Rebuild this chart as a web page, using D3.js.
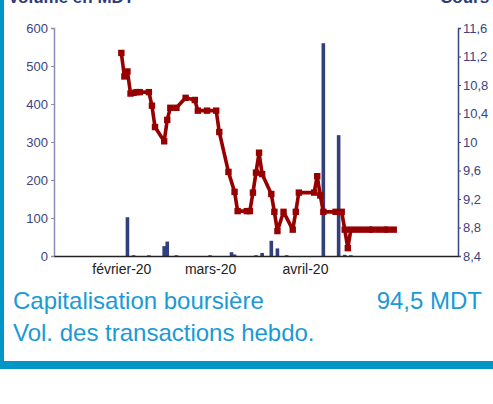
<!DOCTYPE html>
<html>
<head>
<meta charset="utf-8">
<script src="https://cdn.jsdelivr.net/npm/d3@7"></script>
<style>
  body { margin: 0; background: #fff; }
  svg { display: block; font-family: "Liberation Sans", Arial, sans-serif; }
</style>
</head>
<body>
<svg id="chart" width="493" height="404"></svg>
<script>
// cours (daily price), right axis
const coursDates = ["2020-02-01","2020-02-02","2020-02-03","2020-02-04","2020-02-05","2020-02-06","2020-02-07",
  "2020-02-10","2020-02-11","2020-02-12","2020-02-15","2020-02-16","2020-02-17","2020-02-19","2020-02-22",
  "2020-02-25","2020-02-26","2020-02-29","2020-03-03","2020-03-04","2020-03-07","2020-03-09","2020-03-10",
  "2020-03-13","2020-03-14","2020-03-15","2020-03-16","2020-03-17","2020-03-18","2020-03-21","2020-03-22",
  "2020-03-23","2020-03-25","2020-03-28","2020-03-29","2020-03-30","2020-04-04","2020-04-05","2020-04-06",
  "2020-04-07","2020-04-11","2020-04-13","2020-04-14","2020-04-15","2020-04-16","2020-04-18","2020-04-20",
  "2020-04-22","2020-04-23","2020-04-25","2020-04-27","2020-04-28","2020-04-30"];
const coursValues = [11.25,10.92,10.99,10.68,10.69,10.70,10.70,
  10.70,10.51,10.21,10.01,10.31,10.48,10.48,10.62,
  10.59,10.44,10.44,10.44,10.14,9.58,9.30,9.03,
  9.03,9.03,9.29,9.57,9.85,9.55,9.27,9.02,
  8.75,9.02,8.77,9.02,9.29,9.29,9.52,9.25,
  9.02,9.02,9.02,8.77,8.51,8.77,8.77,8.77,
  8.77,8.77,8.77,8.77,8.77,8.77];

// weekly transaction volume (MDT), left axis
const volDates = ["2020-02-03","2020-02-05","2020-02-10","2020-02-15","2020-02-16","2020-02-19","2020-03-01",
  "2020-03-08","2020-03-09","2020-03-16","2020-03-18","2020-03-21","2020-03-23","2020-03-26","2020-04-07",
  "2020-04-12","2020-04-14","2020-04-16"];
const volValues = [102,2,2,26,38,2,2,
  10,4,2,8,40,20,2,560,
  318,3,2];

const leftTicks = [0,100,200,300,400,500,600];
const rightTicks = [8.4,8.8,9.2,9.6,10,10.4,10.8,11.2,11.6];
const monthTicks = ["2020-02-01","2020-03-01","2020-04-01"];
const monthLabels = ["février-20","mars-20","avril-20"];

const parse = d3.timeParse("%Y-%m-%d");
const svg = d3.select("#chart");

// frame
svg.append("rect").attr("x", 0).attr("y", 0).attr("width", 4).attr("height", 369).attr("fill", "#0096c8");
svg.append("rect").attr("x", 0).attr("y", 361).attr("width", 493).attr("height", 8).attr("fill", "#0096c8");

// axis titles, cut off at the top like the reference
svg.append("text").attr("x", 8).attr("y", 3).attr("font-size", 17).attr("font-weight", "bold")
  .attr("fill", "#2f3a78").text("Volume en MDT");
svg.append("text").attr("x", 440).attr("y", 3).attr("font-size", 17).attr("font-weight", "bold")
  .attr("fill", "#2f3a78").text("Cours");

const x = d3.scaleTime()
  .domain([new Date(2020, 0, 10), new Date(2020, 4, 21)])
  .range([54, 458]);
const yL = d3.scaleLinear().domain([0, 600]).range([256, 28]);
const yR = d3.scaleLinear().domain([8.4, 11.6]).range([256, 28]);

// bars
const bars = volDates.map((d, i) => ({date: parse(d), v: volValues[i]}));
svg.append("g").selectAll("rect")
  .data(bars)
  .join("rect")
  .attr("x", d => x(d.date) - 1.8)
  .attr("width", 3.6)
  .attr("y", d => yL(d.v))
  .attr("height", d => yL(0) - yL(d.v))
  .attr("fill", "#333f7c");

// left axis
const gl = svg.append("g").attr("transform", "translate(54,0)")
  .call(d3.axisLeft(yL).tickValues(leftTicks).tickSize(3).tickPadding(3));
gl.select(".domain").attr("stroke", "#8c8cb0").attr("stroke-width", 1.5);
gl.selectAll(".tick line").attr("stroke", "#8c8cb0");
gl.selectAll("text").attr("font-size", 13).attr("fill", "#3a4580").attr("font-family", null);

// right axis
const gr = svg.append("g").attr("transform", "translate(458,0)")
  .call(d3.axisRight(yR).tickValues(rightTicks).tickSize(3).tickPadding(2)
    .tickFormat(d => String(+d.toFixed(1)).replace(".", ",")));
gr.select(".domain").attr("stroke", "#3a4580").attr("stroke-width", 1.5);
gr.selectAll(".tick line").attr("stroke", "#3a4580");
gr.selectAll("text").attr("font-size", 13).attr("fill", "#3a4580").attr("font-family", null);

// bottom axis
const gb = svg.append("g").attr("transform", "translate(0,256)")
  .call(d3.axisBottom(x).tickValues(monthTicks.map(parse)).tickSize(0).tickPadding(8)
    .tickFormat((d, i) => monthLabels[i]));
gb.select(".domain").attr("stroke", "#222").attr("stroke-width", 1.5);
gb.selectAll("text").attr("font-size", 14).attr("fill", "#222").attr("font-family", null);

// cours line
const pts = coursDates.map((d, i) => ({date: parse(d), v: coursValues[i]}));
svg.append("path")
  .datum(pts)
  .attr("fill", "none")
  .attr("stroke", "#960000")
  .attr("stroke-width", 3.6)
  .attr("stroke-linejoin", "round")
  .attr("d", d3.line().x(d => x(d.date)).y(d => yR(d.v)));
svg.append("g").selectAll("rect")
  .data(pts)
  .join("rect")
  .attr("x", d => x(d.date) - 3.2)
  .attr("y", d => yR(d.v) - 3.2)
  .attr("width", 6.4)
  .attr("height", 6.4)
  .attr("fill", "#960000");

// legend text
svg.append("text").attr("x", 13).attr("y", 309).attr("font-size", 24).attr("fill", "#1a9ad6")
  .text("Capitalisation boursière");
svg.append("text").attr("x", 482).attr("y", 309).attr("font-size", 24).attr("fill", "#1a9ad6")
  .attr("text-anchor", "end").text("94,5 MDT");
svg.append("text").attr("x", 13).attr("y", 341).attr("font-size", 24).attr("fill", "#1a9ad6")
  .text("Vol. des transactions hebdo.");
</script>
</body>
</html>
